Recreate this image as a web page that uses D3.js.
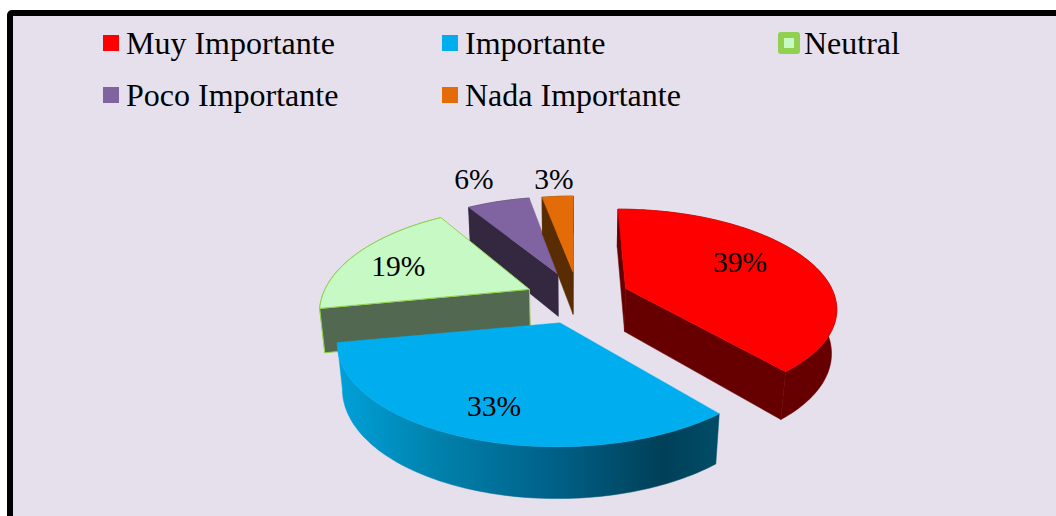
<!DOCTYPE html>
<html><head><meta charset="utf-8">
<script src="https://cdn.jsdelivr.net/npm/d3@7"></script>
<style>html,body{margin:0;padding:0;background:#fff;overflow:hidden}svg{display:block}text{font-family:"Liberation Serif",serif;fill:#000}</style>
</head><body><svg id="c" width="1056" height="516"></svg>
<script>
const categories = ["Muy Importante","Importante","Neutral","Poco Importante","Nada Importante"];
const values = [39,33,19,6,3];
const topColors = ["#ff0000","#00aeef","#c6f9c4","#8064a2","#e36c09"];
const wallColors = ["#660000","url(#blueWall)","#526850","#332840","#5a2c02"];
const strokeColors = ["none","none","#92d050","none","none"];
const offsetX = [0.25,-0.07,-0.225,-0.086,-0.01];
const offsetZ = [0.08,-0.266,0.07,0.237,0.26];
const radiusX = [1.02,1.015,1.01,1,1];
const radiusZ = [1,0.96,1.05,1.03,1.02];
const labelX = [0.859,-0.328,-0.913,-0.63,-0.131];
const labelZ = [0.377,-0.951,0.329,1.558,1.558];
const drawOrder = [3,4,2,0,1];

const P = {cx:575,cy:296,a:205,b:96,p:0.179,q:0.02,H:44.5};
function project(X,Z,h){
  const d = 1+P.p*Z+P.q*h;
  return [P.cx+P.a*X/d, P.cy+(-P.b*Z+P.H*h)/d];
}
const svg = d3.select("#c");
const defs = svg.append("defs");
const g = defs.append("linearGradient").attr("id","blueWall").attr("gradientUnits","userSpaceOnUse")
  .attr("x1",340).attr("x2",720).attr("y1",0).attr("y2",0);
[[0,"#00a0d8"],[0.25,"#0082ad"],[0.55,"#00628a"],[0.85,"#004058"],[1,"#004d68"]].forEach(s=>g.append("stop").attr("offset",s[0]).attr("stop-color",s[1]));

svg.append("rect").attr("x",10).attr("y",13).attr("width",1200).attr("height",700).attr("rx",2)
  .attr("fill","#e6e0ec").attr("stroke","#000").attr("stroke-width",6);

// legend
const colX = [103,442,781], rowY=[35,87];
const legend = svg.append("g");
categories.forEach((c,i)=>{
  const col=i%3,row=Math.floor(i/3),x=colX[col],y=rowY[row];
  legend.append("rect").attr("x",x).attr("y",y).attr("width",16).attr("height",16)
    .attr("fill",topColors[i])
    .attr("stroke",strokeColors[i]).attr("stroke-width",6).attr("stroke-linejoin","round");
  legend.append("text").attr("x",col==2?804:x+23).attr("y",y+18.5).attr("font-size",32).text(c);
});

const pie = d3.pie().sort(null).value(d=>d).startAngle(0).endAngle(2*Math.PI);
const arcs = pie(values);
const line = d3.line();
const chart = svg.append("g");
drawOrder.forEach(i=>{
  const A = arcs[i], ox=offsetX[i], oz=offsetZ[i], rx=radiusX[i], rz=radiusZ[i];
  const n=Math.max(6,Math.ceil((A.endAngle-A.startAngle)*40));
  const angs=d3.range(n+1).map(k=>A.startAngle+(A.endAngle-A.startAngle)*k/n);
  const rim=h=>angs.map(t=>project(ox+rx*Math.sin(t),oz+rz*Math.cos(t),h));
  const apex=h=>project(ox,oz,h);
  const topRim=rim(0),botRim=rim(1);
  const wallFill=wallColors[i], sc=strokeColors[i];
  const grp=chart.append("g");
  const add=(pts,fill)=>grp.append("path").attr("d",line(pts)+"Z").attr("fill",fill)
    .attr("stroke",sc=="none"?fill:sc).attr("stroke-width",sc=="none"?0.5:1).attr("stroke-linejoin","round");
  add(topRim.concat(botRim.slice().reverse()),wallFill);
  const a0=apex(0),a1=apex(1);
  const w1=[a0,topRim[0],botRim[0],a1], w2=[topRim[n],a0,a1,botRim[n]];
  [w1,w2].forEach(w=>{ if(d3.polygonArea(w)>0) add(w,wallFill); });
  add([a0].concat(topRim),topColors[i]);
});
arcs.forEach((A,i)=>{
  const p=project(labelX[i],labelZ[i],0);
  svg.append("text").attr("x",p[0]).attr("y",p[1]+10).attr("text-anchor","middle").attr("font-size",29.5)
    .text(d3.format(".0f")(A.value)+"%");
});
</script></body></html>
